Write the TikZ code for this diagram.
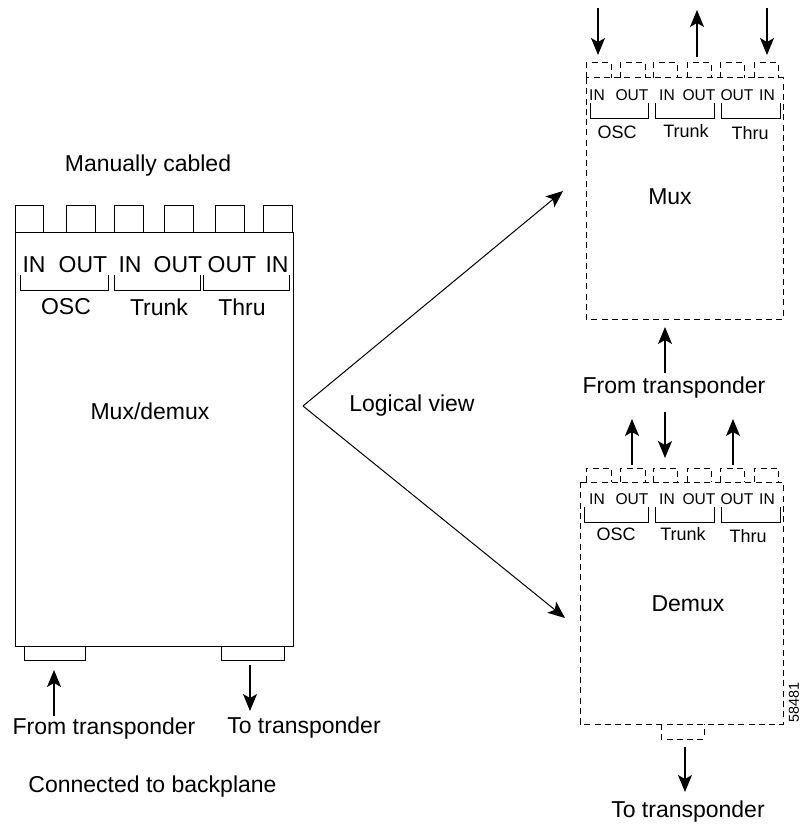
\documentclass[tikz,border=0pt]{standalone}
\usepackage{fontspec}
\setmainfont{Liberation Sans}
\usetikzlibrary{arrows.meta}

\tikzset{every picture/.style={line width=0.75pt}}
\tikzset{
  bigtext/.style={inner sep=0pt,font=\fontsize{17.25}{20}\selectfont},
  midtext/.style={inner sep=0pt,font=\fontsize{13.5}{16}\selectfont},
  smalltext/.style={inner sep=0pt,font=\fontsize{11.7}{14}\selectfont},
  idtext/.style={inner sep=0pt,font=\fontsize{10.8}{13}\selectfont,rotate=90},
  dashbox/.style={dash pattern=on 4.5pt off 3.2pt},
  flowarrow/.style={line width=0.9pt,-{Stealth[length=12.75pt,width=10.5pt,inset=3pt]}}
}

\begin{document}
\begin{tikzpicture}[x=0.75pt,y=0.75pt,yscale=-1,xscale=1]
\useasboundingbox (0,0) rectangle (800,824);

%Mux/demux card
\draw (15,232) rectangle (293,646);
\draw (15,232) -- (15,205) -- (43,205) -- (43,232);
\draw (66,232) -- (66,205) -- (95,205) -- (95,232);
\draw (114,232) -- (114,205) -- (143,205) -- (143,232);
\draw (164,232) -- (164,205) -- (193,205) -- (193,232);
\draw (215,232) -- (215,205) -- (244,205) -- (244,232);
\draw (263,232) -- (263,205) -- (292,205) -- (292,232);
\draw (24,646) -- (24,660) -- (85,660) -- (85,646);
\draw (221,646) -- (221,660) -- (284,660) -- (284,646);
%Brackets
\draw (20,275) -- (20,290) -- (108,290) -- (108,275);
\draw (114,275) -- (114,290) -- (200,290) -- (200,275);
\draw (203,275) -- (203,290) -- (289,290) -- (289,275);

%Mux card
\draw [dashbox] (586,78) rectangle (783,319);
\draw [dashbox] (586,78) -- (586,63) -- (611,63) -- (611,78);
\draw [dashbox] (620,78) -- (620,63) -- (645,63) -- (645,78);
\draw [dashbox] (653,78) -- (653,63) -- (677,63) -- (677,78);
\draw [dashbox] (687,78) -- (687,63) -- (711,63) -- (711,78);
\draw [dashbox] (720,78) -- (720,63) -- (744,63) -- (744,78);
\draw [dashbox] (754,78) -- (754,63) -- (778,63) -- (778,78);
%Brackets
\draw (590,103) -- (590,118) -- (648,118) -- (648,103);
\draw (655,103) -- (655,118) -- (714,118) -- (714,103);
\draw (721,103) -- (721,118) -- (780,118) -- (780,103);

%Demux card
\draw [dashbox] (580,482) rectangle (783,724);
\draw [dashbox] (586,482) -- (586,468) -- (611,468) -- (611,482);
\draw [dashbox] (620,482) -- (620,468) -- (645,468) -- (645,482);
\draw [dashbox] (653,482) -- (653,468) -- (677,468) -- (677,482);
\draw [dashbox] (687,482) -- (687,468) -- (711,468) -- (711,482);
\draw [dashbox] (720,482) -- (720,468) -- (744,468) -- (744,482);
\draw [dashbox] (754,482) -- (754,468) -- (778,468) -- (778,482);
\draw [dashbox] (661,724) -- (661,739) -- (704,739) -- (704,724);
%Brackets
\draw (584,507) -- (584,522) -- (648,522) -- (648,507);
\draw (655,507) -- (655,522) -- (714,522) -- (714,507);
\draw (721,507) -- (721,522) -- (780,522) -- (780,507);

%Arrow ends
\coordinate (apex) at (303,406);
\coordinate (muxEnd) at (563,191);
\coordinate (demuxEnd) at (565,618);
\coordinate (leftInA) at (54,716);
\coordinate (leftInB) at (54,670);
\coordinate (leftOutA) at (250,665);
\coordinate (leftOutB) at (250,711);
\coordinate (muxOscA) at (598,8);
\coordinate (muxOscB) at (598,55);
\coordinate (muxTrunkA) at (697,57);
\coordinate (muxTrunkB) at (697,10);
\coordinate (muxThruA) at (767,8);
\coordinate (muxThruB) at (767,55);
\coordinate (muxInA) at (665,373);
\coordinate (muxInB) at (665,327);
\coordinate (demuxOscA) at (632,465);
\coordinate (demuxOscB) at (632,419);
\coordinate (demuxTrunkA) at (665,412);
\coordinate (demuxTrunkB) at (665,458);
\coordinate (demuxThruA) at (733,465);
\coordinate (demuxThruB) at (733,419);
\coordinate (demuxOutA) at (685,747);
\coordinate (demuxOutB) at (685,792);

%Arrows
\draw [flowarrow,line width=0.75pt] (apex) -- (muxEnd);
\draw [flowarrow,line width=0.75pt] (apex) -- (demuxEnd);
\draw [flowarrow] (leftInA) -- (leftInB);
\draw [flowarrow] (leftOutA) -- (leftOutB);
\draw [flowarrow] (muxOscA) -- (muxOscB);
\draw [flowarrow] (muxTrunkA) -- (muxTrunkB);
\draw [flowarrow] (muxThruA) -- (muxThruB);
\draw [flowarrow] (muxInA) -- (muxInB);
\draw [flowarrow] (demuxOscA) -- (demuxOscB);
\draw [flowarrow] (demuxTrunkA) -- (demuxTrunkB);
\draw [flowarrow] (demuxThruA) -- (demuxThruB);
\draw [flowarrow] (demuxOutA) -- (demuxOutB);

% Text Node
\node (cabled) [bigtext] at (148,166) {Manually cabled};
\node (leftInOsc) [bigtext] at (34,265) {IN};
\node (leftOutOsc) [bigtext] at (83,265) {OUT};
\node (leftInTrunk) [bigtext] at (130,265) {IN};
\node (leftOutTrunk) [bigtext] at (178,265) {OUT};
\node (leftOutThru) [bigtext] at (232,265) {OUT};
\node (leftInThru) [bigtext] at (277,265) {IN};
\node (leftOsc) [bigtext] at (66,307) {OSC};
\node (leftTrunk) [bigtext] at (159,307) {Trunk};
\node (leftThru) [bigtext] at (242,307) {Thru};
\node (muxdemux) [bigtext] at (150,411) {Mux/demux};
\node (logical) [bigtext] at (412,406) {Logical view};
\node (leftFrom) [bigtext] at (104,729) {From transponder};
\node (leftTo) [bigtext] at (304,728) {To transponder};
\node (backplane) [bigtext] at (152.5,787) {Connected to backplane};
% Text Node
\node (muxInOsc) [smalltext] at (597,95) {IN};
\node (muxOutOsc) [smalltext] at (632,95) {OUT};
\node (muxInTrunk) [smalltext] at (667,95) {IN};
\node (muxOutTrunk) [smalltext] at (699,95) {OUT};
\node (muxOutThru) [smalltext] at (737,95) {OUT};
\node (muxInThru) [smalltext] at (767,95) {IN};
\node (muxOsc) [midtext] at (617,132) {OSC};
\node (muxTrunk) [midtext] at (686,131) {Trunk};
\node (muxThru) [midtext] at (750,133) {Thru};
\node (muxName) [bigtext] at (670,197) {Mux};
\node (midFrom) [bigtext] at (674,388) {From transponder};
% Text Node
\node (demuxInOsc) [smalltext] at (597,499) {IN};
\node (demuxOutOsc) [smalltext] at (632,499) {OUT};
\node (demuxInTrunk) [smalltext] at (667,499) {IN};
\node (demuxOutTrunk) [smalltext] at (699,499) {OUT};
\node (demuxOutThru) [smalltext] at (737,499) {OUT};
\node (demuxInThru) [smalltext] at (767,499) {IN};
\node (demuxOsc) [midtext] at (616,534) {OSC};
\node (demuxTrunk) [midtext] at (683,534) {Trunk};
\node (demuxThru) [midtext] at (748,536) {Thru};
\node (demuxName) [bigtext] at (688,603.5) {Demux};
\node (rightTo) [bigtext] at (688,812) {To transponder};
\node (figId) [idtext] at (794,702) {58481};

\end{tikzpicture}
\end{document}
